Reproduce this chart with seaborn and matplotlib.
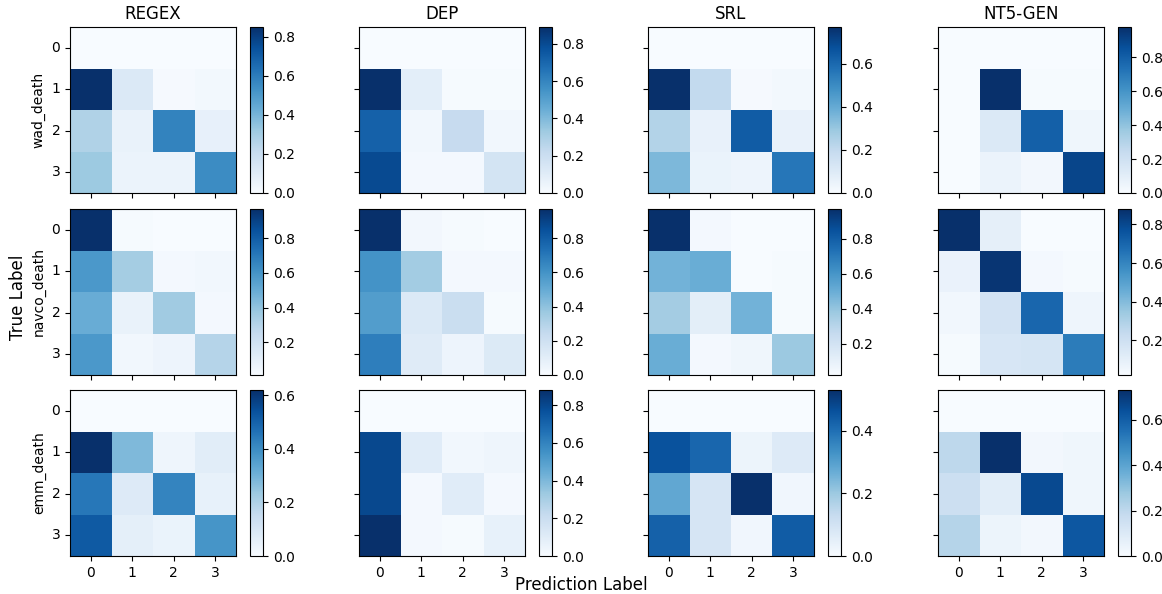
import matplotlib
matplotlib.use('Agg')
import matplotlib.pyplot as plt
import seaborn as sns
import numpy as np

# Column (method) and row (dataset) names
methods = ['REGEX', 'DEP', 'SRL', 'NT5-GEN']
datasets = ['wad_death', 'navco_death', 'emm_death']
class_labels = [0, 1, 2, 3]

# Row-normalised confusion matrices
wad_regex = [[0.0, 0.0, 0.0, 0.0],
             [0.85, 0.12, 0.01, 0.02],
             [0.27, 0.06, 0.58, 0.07],
             [0.32, 0.05, 0.05, 0.55]]
wad_dep = [[0.0, 0.0, 0.0, 0.0],
           [0.89, 0.09, 0.01, 0.01],
           [0.72, 0.03, 0.22, 0.03],
           [0.80, 0.02, 0.02, 0.16]]
wad_srl = [[0.0, 0.0, 0.0, 0.0],
           [0.77, 0.20, 0.01, 0.02],
           [0.24, 0.06, 0.64, 0.06],
           [0.35, 0.05, 0.04, 0.56]]
wad_nt5 = [[0.0, 0.0, 0.0, 0.0],
           [0.0, 0.98, 0.01, 0.01],
           [0.0, 0.14, 0.80, 0.04],
           [0.0, 0.06, 0.03, 0.90]]

navco_regex = [[0.97, 0.02, 0.01, 0.01],
               [0.58, 0.35, 0.03, 0.04],
               [0.50, 0.08, 0.36, 0.03],
               [0.58, 0.04, 0.06, 0.30]]
navco_dep = [[0.97, 0.03, 0.01, 0.0],
             [0.60, 0.35, 0.02, 0.02],
             [0.56, 0.14, 0.22, 0.01],
             [0.68, 0.12, 0.05, 0.13]]
navco_srl = [[0.97, 0.04, 0.02, 0.02],
             [0.48, 0.50, 0.02, 0.03],
             [0.36, 0.12, 0.48, 0.03],
             [0.50, 0.04, 0.06, 0.38]]
navco_nt5 = [[0.88, 0.10, 0.02, 0.02],
             [0.08, 0.86, 0.04, 0.03],
             [0.05, 0.18, 0.70, 0.06],
             [0.03, 0.16, 0.17, 0.63]]

emm_regex = [[0.0, 0.0, 0.0, 0.0],
             [0.62, 0.28, 0.03, 0.07],
             [0.45, 0.08, 0.42, 0.05],
             [0.52, 0.06, 0.04, 0.38]]
emm_dep = [[0.0, 0.0, 0.0, 0.0],
           [0.80, 0.10, 0.03, 0.04],
           [0.80, 0.02, 0.10, 0.02],
           [0.88, 0.02, 0.01, 0.07]]
emm_srl = [[0.0, 0.0, 0.0, 0.0],
           [0.46, 0.42, 0.03, 0.07],
           [0.28, 0.09, 0.53, 0.02],
           [0.43, 0.09, 0.02, 0.44]]
emm_nt5 = [[0.0, 0.0, 0.0, 0.0],
           [0.20, 0.73, 0.02, 0.03],
           [0.16, 0.08, 0.66, 0.03],
           [0.22, 0.04, 0.02, 0.62]]

grid = [[wad_regex, wad_dep, wad_srl, wad_nt5],
        [navco_regex, navco_dep, navco_srl, navco_nt5],
        [emm_regex, emm_dep, emm_srl, emm_nt5]]

W, H = 1162, 594
fig = plt.figure(figsize=(W / 100, H / 100), dpi=100)

col_left = [70, 359, 648, 938]
row_top = [27, 209, 390]
size = 166

for i in range(3):
    for j in range(4):
        x0, y0 = col_left[j], row_top[i]
        ax = fig.add_axes([x0 / W, 1 - (y0 + size) / H, size / W, size / H])
        cax = fig.add_axes([(x0 + 180) / W, 1 - (y0 + size) / H, 13 / W, size / H])
        sns.heatmap(np.array(grid[i][j]), ax=ax, cbar_ax=cax, cmap='Blues',
                    xticklabels=class_labels, yticklabels=class_labels)
        for s in ax.spines.values():
            s.set_visible(True)
            s.set_linewidth(0.8)
        cbar = ax.collections[0].colorbar
        cbar.outline.set_linewidth(0.8)
        cax.tick_params(labelsize=10)
        ax.tick_params(axis='y', rotation=0, labelsize=10)
        ax.tick_params(axis='x', rotation=0, labelsize=10)
        if i < 2:
            ax.set_xticklabels([])
        if j > 0:
            ax.set_yticklabels([])
        if i == 0:
            ax.set_title(methods[j], fontsize=12)
        if j == 0:
            ax.set_ylabel(datasets[i], fontsize=10)

fig.text(18 / W, 0.5, 'True Label', rotation=90, va='center', ha='center', fontsize=12)
fig.text(0.5, 1 - 585 / H, 'Prediction Label', ha='center', va='center', fontsize=12)

fig.savefig('out.png', dpi=100)
